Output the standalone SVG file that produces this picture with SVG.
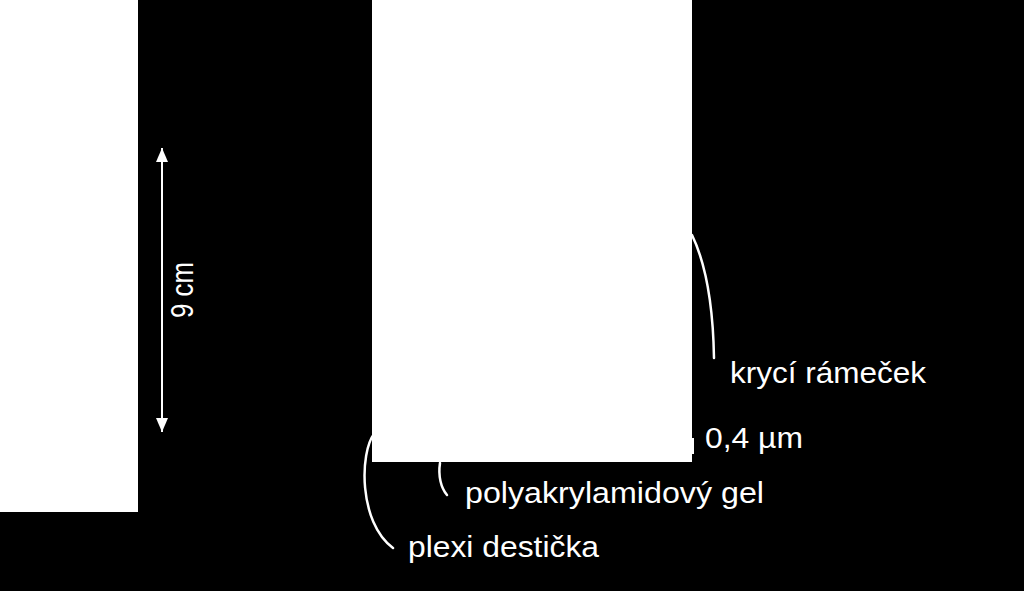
<svg xmlns="http://www.w3.org/2000/svg" width="1024" height="591" viewBox="0 0 1024 591">
<style>
.lbl{font-family:"Liberation Sans",Arial,sans-serif;font-size:29px;fill:#ffffff}
.cl{fill:none;stroke:#ffffff;stroke-width:2.5;stroke-linecap:round}
</style>
<defs>
<marker id="ah" markerWidth="14" markerHeight="12" refX="10" refY="5" orient="auto-start-reverse" markerUnits="userSpaceOnUse" viewBox="0 0 10 10" preserveAspectRatio="none">
<path d="M0,0 L10,5 L0,10 z" fill="#ffffff"/>
</marker>
</defs>
<rect x="0" y="0" width="1024" height="591" fill="#000000"/>
<g id="left-panel">
<rect x="0" y="0" width="138" height="512" fill="#ffffff"/>
</g>
<g id="gel-plate">
<rect x="372" y="0" width="320" height="462" fill="#ffffff"/>
<rect x="690" y="438" width="4" height="16" fill="#ffffff"/>
</g>
<g id="connectors">
<line x1="162" y1="148" x2="162" y2="432" stroke="#ffffff" stroke-width="2" marker-start="url(#ah)" marker-end="url(#ah)"/>
<path class="cl" d="M692,235 C705,262 713,300 714,358"/>
<path class="cl" d="M440,463 C438,476 441,488 447,495"/>
<path class="cl" d="M374,434 C360,452 358,522 393,548"/>
</g>
<g id="label-9cm">
<text class="lbl" style="font-size:32px" transform="translate(193,290) rotate(-90)" text-anchor="middle" textLength="56" lengthAdjust="spacingAndGlyphs">9 cm</text>
</g>
<g id="label-kryci">
<text class="lbl" x="730" y="383" textLength="196" lengthAdjust="spacingAndGlyphs">krycí rámeček</text>
</g>
<g id="label-thickness">
<text class="lbl" x="705" y="448" textLength="98" lengthAdjust="spacingAndGlyphs">0,4 µm</text>
</g>
<g id="label-gel">
<text class="lbl" x="465" y="503" textLength="299" lengthAdjust="spacingAndGlyphs">polyakrylamidový gel</text>
</g>
<g id="label-plexi">
<text class="lbl" x="408" y="557" textLength="191" lengthAdjust="spacingAndGlyphs">plexi destička</text>
</g>
</svg>
